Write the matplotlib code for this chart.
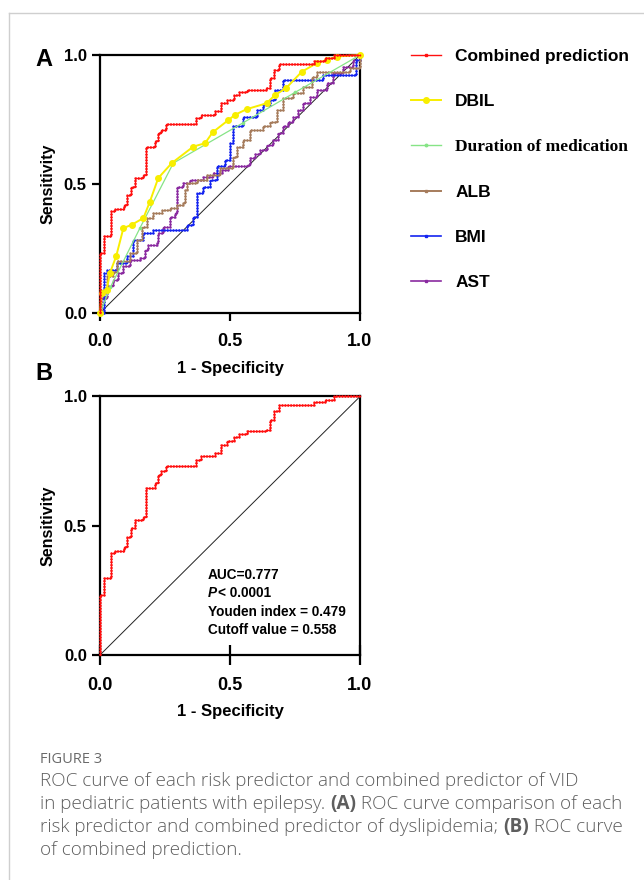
"""ROC curves of each risk predictor and the combined predictor (Figure 3)."""

import matplotlib
matplotlib.use("Agg")
import matplotlib.pyplot as plt
from matplotlib.lines import Line2D
from matplotlib.transforms import offset_copy

# ---- data (fpr = 1 - specificity, tpr = sensitivity) ----
combined_fpr = [0, 0, 0.017, 0.043, 0.058, 0.092, 0.105, 0.12, 0.136, 0.165, 0.178,
                0.21, 0.223, 0.236, 0.255, 0.371, 0.387, 0.441, 0.464, 0.49, 0.515,
                0.535, 0.567, 0.64, 0.655, 0.67, 0.688, 0.823, 0.865, 0.9, 1.0]
combined_tpr = [0, 0.232, 0.299, 0.394, 0.403, 0.419, 0.458, 0.49, 0.523, 0.535, 0.645,
                0.665, 0.697, 0.71, 0.732, 0.755, 0.768, 0.783, 0.813, 0.826, 0.845,
                0.855, 0.865, 0.871, 0.91, 0.943, 0.967, 0.977, 0.988, 1.0, 1.0]

dbil_fpr = [0, 0.006, 0.026, 0.038, 0.062, 0.09, 0.122, 0.167, 0.192, 0.224, 0.276,
            0.359, 0.404, 0.433, 0.494, 0.519, 0.564, 0.641, 0.673, 0.715, 0.776,
            0.833, 0.872, 0.91, 1.0]
dbil_tpr = [0, 0.077, 0.09, 0.155, 0.219, 0.329, 0.342, 0.368, 0.432, 0.523, 0.581,
            0.645, 0.658, 0.7, 0.748, 0.768, 0.79, 0.813, 0.845, 0.871, 0.935,
            0.968, 0.981, 0.994, 1.0]

duration_fpr = [0, 0.04, 0.154, 0.282, 0.55, 0.75, 1.0]
duration_tpr = [0, 0.1, 0.33, 0.581, 0.737, 0.855, 1.0]

alb_fpr = [0, 0.005, 0.026, 0.05, 0.064, 0.115, 0.141, 0.16, 0.18, 0.205, 0.237, 0.269,
           0.295, 0.32, 0.327, 0.333, 0.372, 0.41, 0.462, 0.513, 0.526, 0.551, 0.577,
           0.628, 0.654, 0.679, 0.705, 0.744, 0.782, 0.814, 0.833, 0.962, 1.0]
alb_tpr = [0, 0.09, 0.142, 0.16, 0.2, 0.232, 0.284, 0.335, 0.368, 0.387, 0.4, 0.406,
           0.419, 0.426, 0.477, 0.503, 0.516, 0.535, 0.561, 0.606, 0.645, 0.671, 0.71,
           0.723, 0.742, 0.787, 0.832, 0.852, 0.877, 0.916, 0.935, 0.948, 1.0]

bmi_fpr = [0, 0.015, 0.026, 0.064, 0.103, 0.128, 0.167, 0.205, 0.333, 0.359, 0.372,
           0.397, 0.423, 0.449, 0.481, 0.5, 0.513, 0.551, 0.603, 0.628, 0.654, 0.673,
           0.705, 0.859, 0.985, 1.0]
bmi_tpr = [0, 0.155, 0.168, 0.194, 0.219, 0.284, 0.31, 0.323, 0.342, 0.374, 0.465,
           0.49, 0.516, 0.568, 0.594, 0.658, 0.723, 0.761, 0.787, 0.806, 0.826, 0.865,
           0.903, 0.923, 0.98, 1.0]

ast_fpr = [0, 0.005, 0.026, 0.051, 0.071, 0.09, 0.115, 0.154, 0.173, 0.186, 0.218,
           0.224, 0.244, 0.269, 0.288, 0.295, 0.321, 0.346, 0.397, 0.436, 0.468, 0.494,
           0.564, 0.577, 0.596, 0.615, 0.641, 0.667, 0.686, 0.705, 0.724, 0.744, 0.763,
           0.782, 0.808, 0.833, 0.872, 0.897, 0.936, 0.974, 1.0]
ast_tpr = [0, 0.06, 0.103, 0.129, 0.155, 0.181, 0.206, 0.213, 0.245, 0.265, 0.271,
           0.31, 0.335, 0.374, 0.387, 0.49, 0.503, 0.516, 0.529, 0.542, 0.555, 0.568,
           0.574, 0.6, 0.615, 0.632, 0.652, 0.671, 0.697, 0.723, 0.742, 0.761, 0.787,
           0.813, 0.839, 0.865, 0.89, 0.929, 0.955, 0.981, 1.0]

stats_lines = ["AUC=0.777", "< 0.0001", "Youden index = 0.479", "Cutoff value = 0.558"]
ticks = [0.0, 0.5, 1.0]
tick_labels = ["0.0", "0.5", "1.0"]

RED = "#FF1010"
YELLOW = "#F8EE00"
GREEN = "#86E486"
BROWN = "#A67C5C"
BLUE = "#1424F0"
PURPLE = "#8A2AA0"

plt.rcParams["font.family"] = ["Liberation Sans", "DejaVu Sans"]

fig = plt.figure(figsize=(6.44, 8.8), dpi=100)
W, H = 644.0, 880.0

# light frame of the figure page
fig.add_artist(Line2D([9 / W, 1.0], [1 - 13 / H, 1 - 13 / H], color="#cfcfcf", lw=1.0))
fig.add_artist(Line2D([9 / W, 9 / W], [0.0, 1 - 13 / H], color="#cfcfcf", lw=1.0))

axA = fig.add_axes([100 / W, 1 - 313 / H, 260 / W, 258 / H])
axB = fig.add_axes([100 / W, 1 - 655 / H, 260 / W, 258.5 / H])


def step_curve(ax, x, y, color, zorder):
    ax.plot(x, y, drawstyle="steps-post", color=color, lw=1.0, clip_on=False, zorder=zorder)
    ax.plot(x, y, drawstyle="steps-post", color=color, lw=1.8, ls=(0, (0.6, 0.55)),
            dash_capstyle="butt", clip_on=False, zorder=zorder)


def style_axes(ax, x_dir):
    ax.set_xlim(0, 1)
    ax.set_ylim(0, 1)
    for sp in ax.spines.values():
        sp.set_linewidth(1.6)
        sp.set_zorder(1)
    ax.plot([0, 1], [0, 1], color="#222222", lw=0.7, zorder=2)
    ax.set_xticks(ticks)
    ax.set_xticklabels(tick_labels, fontsize=13, fontweight="bold")
    ax.set_yticks(ticks)
    ax.set_yticklabels(tick_labels, fontsize=12, fontweight="bold")
    ax.tick_params(axis="y", direction="out", length=6, width=1.6, pad=3.5)
    if x_dir == "inout":
        ax.tick_params(axis="x", direction="inout", length=14, width=1.6, pad=8.5)
    else:
        ax.tick_params(axis="x", direction="out", length=6, width=1.6, pad=8.5)
    ax.set_ylabel("Sensitivity", fontsize=11.5, fontweight="bold", labelpad=6)
    ax.set_xlabel("1 - Specificity", fontsize=12, fontweight="bold", labelpad=7.5)


# ---- panel A: all predictors ----
style_axes(axA, "out")
step_curve(axA, ast_fpr, ast_tpr, PURPLE, 3)
step_curve(axA, bmi_fpr, bmi_tpr, BLUE, 4)
step_curve(axA, alb_fpr, alb_tpr, BROWN, 5)
axA.plot(duration_fpr, duration_tpr, color=GREEN, lw=0.9, marker="o", ms=1.6,
         clip_on=False, zorder=6)
axA.plot(dbil_fpr, dbil_tpr, color=YELLOW, lw=1.4, marker="o", ms=4, mec=YELLOW,
         clip_on=False, zorder=7)
step_curve(axA, combined_fpr, combined_tpr, RED, 8)

handles = [
    Line2D([], [], color=RED, lw=1.0, marker="s", ms=1.5),
    Line2D([], [], color=YELLOW, lw=1.4, marker="o", ms=4),
    Line2D([], [], color=GREEN, lw=1.0, marker="o", ms=1.8),
    Line2D([], [], color=BROWN, lw=1.4, marker="s", ms=1.5),
    Line2D([], [], color=BLUE, lw=1.2, marker="s", ms=2),
    Line2D([], [], color=PURPLE, lw=1.2, marker="s", ms=1.5),
]
labels = ["Combined prediction", "DBIL", "Duration of medication", "ALB", "BMI", "AST"]
leg = fig.legend(handles, labels, loc="upper left", bbox_to_anchor=(411 / W, 1 - 49 / H),
                 frameon=False, fontsize=12.5, handlelength=1.7, handletextpad=0.85,
                 labelspacing=1.72, borderaxespad=0, borderpad=0)
for t in leg.get_texts():
    t.set_fontweight("bold")
leg.get_texts()[2].set_fontfamily(["Liberation Serif", "DejaVu Serif"])

# ---- panel B: combined prediction ----
style_axes(axB, "inout")
step_curve(axB, combined_fpr, combined_tpr, RED, 8)

x0, y0, dy = 0.415, 0.31, 0.071
fs = 9.8
axB.text(x0, y0, stats_lines[0], transform=axB.transAxes, fontsize=fs,
         fontweight="bold", va="center", ha="left")
axB.text(x0, y0 - dy, "P", transform=axB.transAxes, fontsize=fs, fontweight="bold",
         fontstyle="italic", va="center", ha="left")
axB.text(x0, y0 - dy, stats_lines[1],
         transform=offset_copy(axB.transAxes, fig=fig, x=10.5, y=0, units="dots"),
         fontsize=fs, fontweight="bold", va="center", ha="left")
for i in (2, 3):
    axB.text(x0, y0 - i * dy, stats_lines[i], transform=axB.transAxes, fontsize=fs,
             fontweight="bold", va="center", ha="left")

# panel letters
fig.text(44 / W, 1 - 59 / H, "A", fontsize=17, fontweight="bold", ha="center", va="center")
fig.text(44 / W, 1 - 373 / H, "B", fontsize=17, fontweight="bold", ha="center", va="center")

# caption
cap_font = ["Open Sans", "DejaVu Sans"]
fig.text(40 / W, 1 - 759 / H, "FIGURE 3", fontsize=10.5, color="#6a6a6a",
         family=cap_font, va="center", ha="left")
caption = [
    ("ROC curve of each risk predictor and combined predictor of VID", None),
    ("in pediatric patients with epilepsy. ", "(A)", " ROC curve comparison of each"),
    ("risk predictor and combined predictor of dyslipidemia; ", "(B)", " ROC curve"),
    ("of combined prediction.", None),
]
line_y = [781, 804, 827, 850]
renderer = fig.canvas.get_renderer()
for parts, yy in zip(caption, line_y):
    x = 40
    for part in (p for p in parts if p):
        t = fig.text(x / W, 1 - yy / H, part, fontsize=13.6, color="#5e5e5e",
                     family=cap_font, va="center", ha="left",
                     fontweight="bold" if part.startswith("(") else "light")
        x += t.get_window_extent(renderer).width

fig.savefig("out.png", dpi=100, facecolor="white")
